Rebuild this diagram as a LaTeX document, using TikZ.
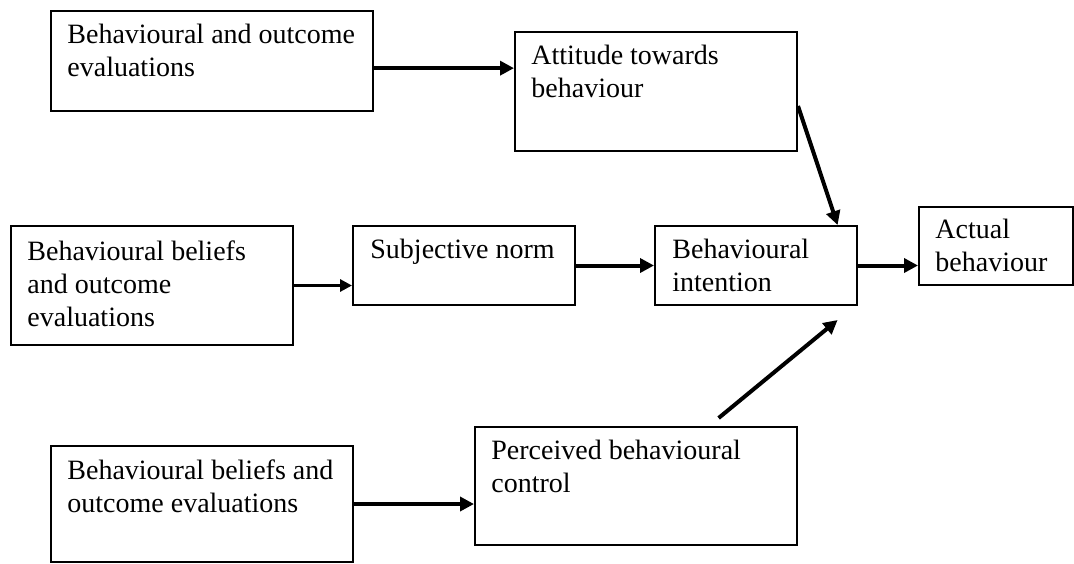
\documentclass[tikz,border=0pt]{standalone}
\usepackage{fontspec}
\setmainfont{Liberation Serif}
\usetikzlibrary{arrows.meta, positioning, calc}
\tikzset{
  box/.style={draw, line width=1pt, anchor=north west, inner sep=0pt},
  lbl/.style={anchor=north west, align=left, inner sep=0pt, font=\fontsize{14}{16.5}\selectfont},
  arr/.style={line width=2pt, -{Triangle[length=7pt, width=7pt]}},
  thinarr/.style={line width=1.5pt, -{Triangle[length=6pt, width=6pt]}}
}

\begin{document}
\begin{tikzpicture}[x=0.5pt, y=-0.5pt]
  \useasboundingbox (0,0) rectangle (1074,563);

  % boxes
  \node[box, minimum width=161pt, minimum height=50pt]   (beh)  at (50,10)   {};
  \node[box, minimum width=141pt, minimum height=59.5pt] (att)  at (514,31)  {};
  \node[box, minimum width=141pt, minimum height=59.5pt] (bel1) at (10,225)  {};
  \node[box, minimum width=111pt, minimum height=39.5pt] (sub)  at (352,225) {};
  \node[box, minimum width=101pt, minimum height=39.5pt] (int)  at (654,225) {};
  \node[box, minimum width=77pt,  minimum height=39pt]   (act)  at (918,206) {};
  \node[box, minimum width=151pt, minimum height=58pt]   (bel2) at (50,445)  {};
  \node[box, minimum width=161pt, minimum height=59pt]   (pbc)  at (474,426) {};

  % texts, top left in each box
  \node[lbl] (beh-t)  at ([shift={(17,14)}]beh.north west)  {Behavioural and outcome\\evaluations};
  \node[lbl] (att-t)  at ([shift={(17,14)}]att.north west)  {Attitude towards\\behaviour};
  \node[lbl] (bel1-t) at ([shift={(17,15)}]bel1.north west) {Behavioural beliefs\\and outcome\\evaluations};
  \node[lbl] (sub-t)  at ([shift={(18,14)}]sub.north west)  {Subjective norm};
  \node[lbl] (int-t)  at ([shift={(18,14)}]int.north west)  {Behavioural\\intention};
  \node[lbl] (act-t)  at ([shift={(17,13)}]act.north west)  {Actual\\behaviour};
  \node[lbl] (bel2-t) at ([shift={(17,14)}]bel2.north west) {Behavioural beliefs and\\outcome evaluations};
  \node[lbl] (pbc-t)  at ([shift={(17,14)}]pbc.north west)  {Perceived behavioural\\control};

  % connectors
  \coordinate (beh-o) at ($(beh.north east)!0.57!(beh.south east)$);
  \draw[arr] (beh-o) -- (beh-o -| att.west);
  \draw[thinarr] (bel1.east) -- (bel1.east -| sub.west);
  \draw[arr] (sub.east) -- (int.west);
  \draw[arr] (int.east) -- (int.east -| act.west);
  \draw[arr] (bel2.east) -- (bel2.east -| pbc.west);

  % diagonal ones into the intention box
  \coordinate (att-o) at ($(att.north east)!0.62!(att.south east)$);
  \coordinate (int-a) at ($(int.north west)!0.9!(int.north east)$);
  \draw[arr] (att-o) -- (int-a);
  \coordinate (pbc-o) at ($(pbc.north west)!0.755!(pbc.north east)+(0,-8)$);
  \coordinate (int-b) at ($(int.south west)!0.9!(int.south east)+(0,14)$);
  \draw[arr] (pbc-o) -- (int-b);
\end{tikzpicture}
\end{document}
